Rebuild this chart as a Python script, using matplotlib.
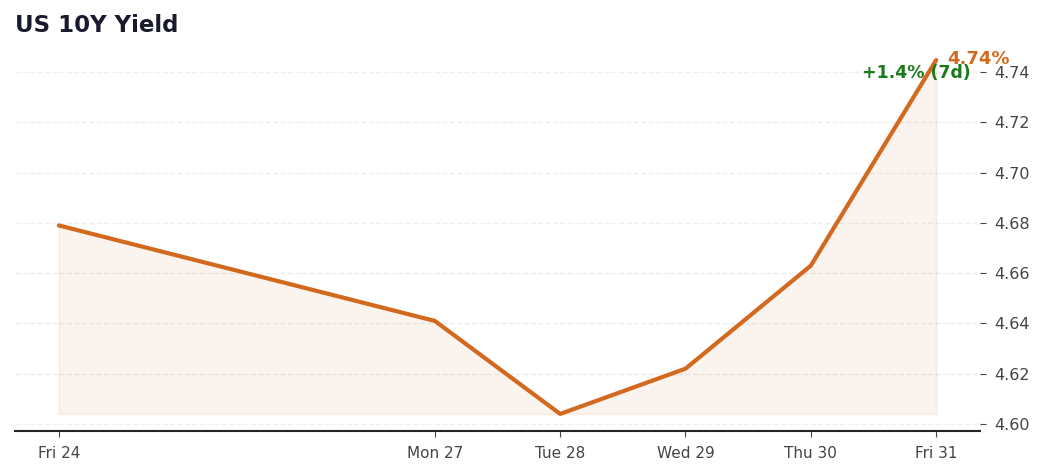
import numpy as np
import pandas as pd
import matplotlib
matplotlib.use("Agg")
import matplotlib.pyplot as plt

dates = pd.to_datetime(["2025-10-24", "2025-10-27", "2025-10-28",
                        "2025-10-29", "2025-10-30", "2025-10-31"])
yields = [4.679, 4.641, 4.604, 4.622, 4.663, 4.7448]
tick_labels = ["Fri 24", "Mon 27", "Tue 28", "Wed 29", "Thu 30", "Fri 31"]
y_ticks = [4.60, 4.62, 4.64, 4.66, 4.68, 4.70, 4.72, 4.74]
change_label = "+1.4% (7d)"

LINE = "#D2691E"

fig = plt.figure(figsize=(10.46, 4.76), dpi=100)
ax = fig.add_axes([15 / 1046, 45 / 476, 965 / 1046, 386 / 476])

ax.fill_between(dates, yields, min(yields), color=LINE, alpha=0.08, lw=1.5)
ax.plot(dates, yields, color=LINE, lw=3, solid_capstyle="round")

ax.set_xticks(dates)
ax.set_xticklabels(tick_labels, fontsize=11, color="#444444")
ax.set_yticks(y_ticks)
ax.yaxis.tick_right()
ax.set_yticklabels([f"{v:.2f}" for v in y_ticks], fontsize=11.5, color="#444444")
ax.tick_params(axis="y", length=4, color="#444444", pad=6)
ax.tick_params(axis="x", length=4, color="#444444", pad=7)
ax.set_ylim(4.5972, 4.7508)
ax.margins(x=0.05)
ax.grid(axis="y", ls="--", color="#eeeeee", lw=1)
ax.set_axisbelow(True)
for s in ["top", "left", "right"]:
    ax.spines[s].set_visible(False)
ax.spines["bottom"].set_color("#222222")
ax.spines["bottom"].set_linewidth(1.5)

ax.annotate(f"{yields[-1]:.2f}%", (dates[-1], yields[-1]), xytext=(8, 1),
            textcoords="offset points", ha="left", va="center",
            fontsize=13, fontweight="bold", color=LINE)
ax.annotate(change_label, (dates[-1], yields[-1]), xytext=(25, -9.5),
            textcoords="offset points", ha="right", va="center",
            fontsize=12.5, fontweight="bold", color="#1a7a1a")

fig.text(15 / 1046, 1 - 26 / 476, "US 10Y Yield", fontsize=16.5, fontweight="bold",
         color="#1a1a2e", va="center", ha="left")

fig.savefig("out.png", dpi=100, facecolor="white")
